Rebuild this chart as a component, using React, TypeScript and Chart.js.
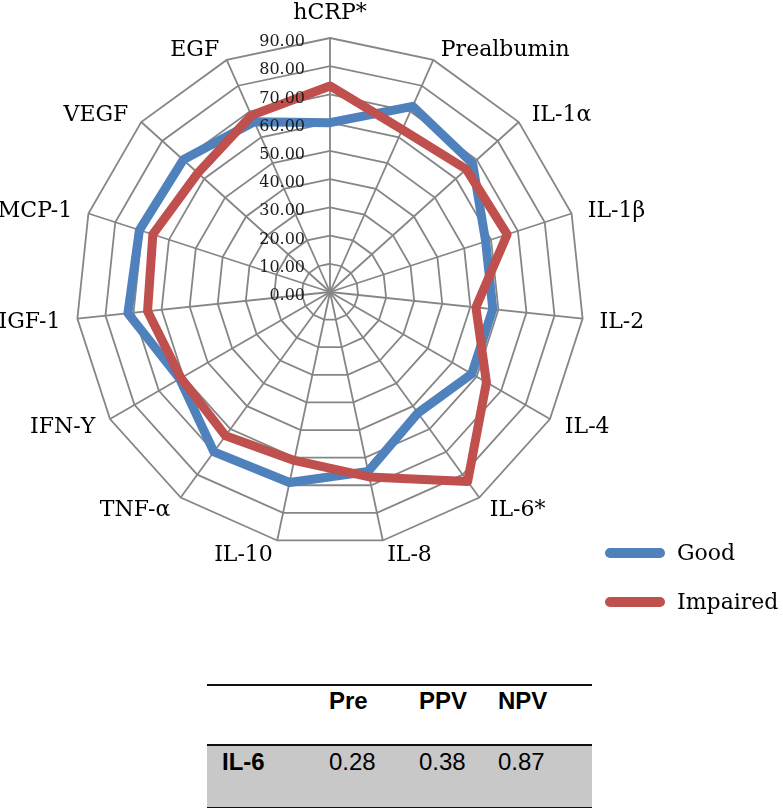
import React, { useEffect, useRef } from "react";
import { Chart, registerables } from "chart.js";

Chart.register(...registerables);

const categories = [
  "hCRP*", "Prealbumin", "IL-1α", "IL-1β", "IL-2", "IL-4", "IL-6*", "IL-8",
  "IL-10", "TNF-α", "IFN-Υ", "IGF-1", "MCP-1", "VEGF", "EGF",
];
const goodValues = [60, 72, 68, 58, 58, 58, 53, 65, 69, 70, 61.5, 72, 71, 70, 66];
const impairedValues = [73, 63, 65, 66, 52, 64, 83, 67, 61, 63, 61, 65, 66, 63, 68.5];
const tickValues = [0, 10, 20, 30, 40, 50, 60, 70, 80, 90];
const seriesNames = ["Good", "Impaired"];
const seriesColors = ["#4F81BD", "#C0504D"];
const tableColumns = ["Pre", "PPV", "NPV"];
const tableRowLabel = "IL-6";
const tableRowValues = ["0.28", "0.38", "0.87"];

const SERIF = "'DejaVu Serif', serif";
const SANS = "'Liberation Sans', Arial, sans-serif";

const radarTextPlugin = {
  id: "radarText",
  afterDraw(chart: any) {
    const scale = chart.scales.r;
    const ctx = chart.ctx;
    ctx.save();
    ctx.font = `16px ${SERIF}`;
    ctx.fillStyle = "#1a1a1a";
    ctx.textAlign = "right";
    ctx.textBaseline = "middle";
    tickValues.forEach((v) => {
      const d = scale.getDistanceFromCenterForValue(v);
      ctx.fillText(v.toFixed(2), scale.xCenter - 25, scale.yCenter - d + 4);
    });
    ctx.font = `22px ${SERIF}`;
    ctx.fillStyle = "#000";
    categories.forEach((lab, i) => {
      const p = scale.getPointPosition(i, scale.drawingArea);
      const dx = Math.cos(p.angle);
      const dy = Math.sin(p.angle);
      if (Math.abs(dx) < 0.01) {
        ctx.textAlign = "center";
        ctx.fillText(lab, p.x, p.y + (dy < 0 ? -25 : 25));
      } else {
        ctx.textAlign = dx > 0 ? "left" : "right";
        ctx.fillText(lab, p.x + dx * 16 + Math.sign(dx), p.y + dy * 13 + 2);
      }
    });
    ctx.restore();
  },
};

export default function App() {
  const canvasRef = useRef<HTMLCanvasElement | null>(null);

  useEffect(() => {
    const canvas = canvasRef.current;
    if (!canvas) return;
    const chart = new Chart(canvas, {
      type: "radar",
      data: {
        labels: categories,
        datasets: [
          {
            label: seriesNames[0],
            data: goodValues,
            borderColor: seriesColors[0],
            backgroundColor: seriesColors[0],
            borderWidth: 9,
            pointRadius: 0,
            fill: false,
            borderJoinStyle: "round",
            order: 1,
          },
          {
            label: seriesNames[1],
            data: impairedValues,
            borderColor: seriesColors[1],
            backgroundColor: seriesColors[1],
            borderWidth: 9,
            pointRadius: 0,
            fill: false,
            borderJoinStyle: "round",
            order: 0,
          },
        ],
      },
      options: {
        responsive: false,
        animation: false,
        layout: { padding: { left: 76, right: 199, top: 38, bottom: 74 } },
        plugins: { legend: { display: false }, tooltip: { enabled: false }, title: { display: false } },
        scales: {
          r: {
            min: 0,
            max: 90,
            beginAtZero: true,
            ticks: { stepSize: 10, display: false },
            pointLabels: { display: false },
            grid: { color: "#868686", lineWidth: 1.8, circular: false },
            angleLines: { color: "#868686", lineWidth: 1.8 },
          },
        },
      },
      plugins: [radarTextPlugin],
    });
    return () => chart.destroy();
  }, []);

  const legendRows = seriesNames.map((name, i) => ({ name, color: seriesColors[i], y: 553 + i * 49 }));
  const colLefts = [329, 419, 498];

  return (
    <div style={{ position: "absolute", left: 0, top: 0, width: 783, height: 808, background: "#fff", overflow: "hidden" }}>
      <canvas ref={canvasRef} width={783} height={620} style={{ position: "absolute", left: 0, top: 0, width: 783, height: 620 }} />
      {legendRows.map((r) => (
        <React.Fragment key={r.name}>
          <div style={{ position: "absolute", left: 605, top: r.y - 5, width: 60, height: 10, borderRadius: 5, background: r.color }} />
          <div style={{ position: "absolute", left: 677, top: r.y - 14, height: 28, lineHeight: "28px", fontFamily: SERIF, fontSize: 22, color: "#000", whiteSpace: "nowrap" }}>{r.name}</div>
        </React.Fragment>
      ))}
      <div style={{ position: "absolute", left: 207, top: 684, width: 385, height: 2, background: "#111" }} />
      {tableColumns.map((c, i) => (
        <div key={c} style={{ position: "absolute", left: colLefts[i], top: 687, lineHeight: "28px", fontFamily: SANS, fontWeight: "bold", fontSize: 24, color: "#000" }}>{c}</div>
      ))}
      <div style={{ position: "absolute", left: 207, top: 744, width: 385, height: 61, background: "#c8c8c8", borderTop: "2px solid #111", borderBottom: "2px solid #111" }} />
      <div style={{ position: "absolute", left: 222, top: 748, lineHeight: "28px", fontFamily: SANS, fontWeight: "bold", fontSize: 24, color: "#000" }}>{tableRowLabel}</div>
      {tableRowValues.map((v, i) => (
        <div key={i} style={{ position: "absolute", left: colLefts[i], top: 748, lineHeight: "28px", fontFamily: SANS, fontSize: 24, color: "#000" }}>{v}</div>
      ))}
    </div>
  );
}
